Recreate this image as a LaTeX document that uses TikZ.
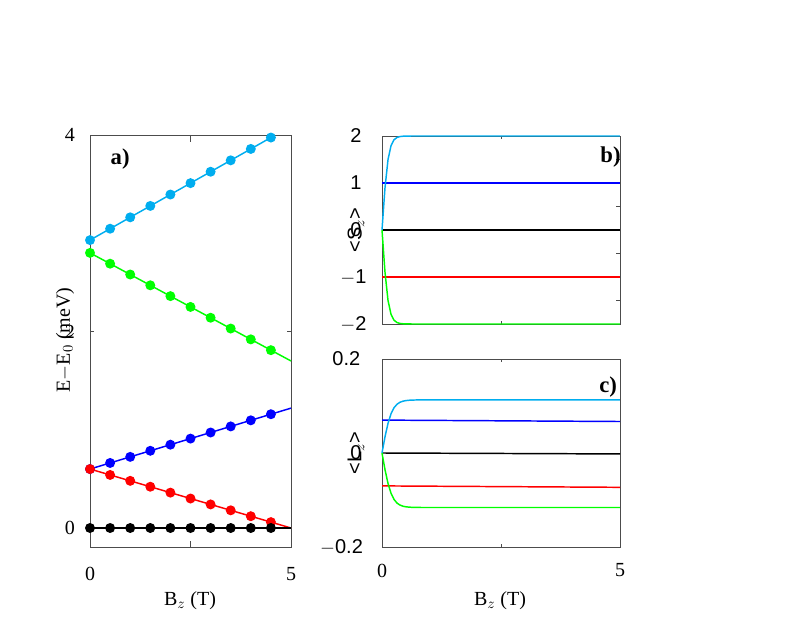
\documentclass[tikz,border=0pt]{standalone}
\usepackage{fontspec}
\setmainfont{Liberation Serif}
\setsansfont{Liberation Sans}
\begin{document}
\begin{tikzpicture}[x=0.75pt,y=-0.75pt,
  frame/.style={draw=black!70,line width=0.5pt},
  crv/.style={line width=1.1pt},
  dot/.style={circle,fill,inner sep=0pt,minimum size=7.5pt},
  lbl/.style={font=\bfseries\fontsize{17}{17}\selectfont},
  tks/.style={font=\fontsize{15}{15}\selectfont},
  tkss/.style={font=\sffamily\fontsize{15}{15}\selectfont}]
\useasboundingbox (0,0) rectangle (806,623);
% ---- panel a
\begin{scope}[shift={(90,528)},x=30.15pt,y=73.69pt]
 \draw[frame] (0,-0.2) rectangle (5,4);
 \foreach \t in {2.5}{\draw[frame] (\t,-0.2)--(\t,-0.13) (\t,4)--(\t,3.93);}
 \foreach \v in {0,2,4}{\draw[frame] (0,\v)--(0.1,\v) (5,\v)--(4.9,\v);}
 \draw[crv,cyan] (0,2.93)--(4.6,3.997);
 \draw[crv,green] (0,2.8)--(5,1.7);
 \draw[crv,blue] (0,0.6)--(5,1.22);
 \draw[crv,red] (0,0.6)--(5,0);
 \draw[crv,black] (0,0)--(5,0);
 \foreach \b in {0,0.5,...,4.5}{
  \node[dot,cyan] at (\b,{2.93+0.232*\b}) {};
  \node[dot,green] at (\b,{2.8-0.22*\b}) {};
  \node[dot,blue] at (\b,{0.6+0.124*\b}) {};
  \node[dot,red] at (\b,{0.6-0.12*\b}) {};
  \node[dot,black] at (\b,0) {};}
 \node[tks] (a4) at (-0.5,4) {4};
 \node[tks] (a2) at (-0.5,2) {2};
 \node[tks] (a0) at (-0.5,0) {0};
 \node[tks] (ax0) at (0,-0.47) {0};
 \node[tks] (ax5) at (5,-0.47) {5};
 \node[lbl] (la) at (0.75,3.75) {a)};
\end{scope}
\node[tks,rotate=90] (ya) at (65,340) {E$-$E$_0$ (meV)};
\node[tks] (xa) at (190,601) {B$_z$ (T)};
% ---- panel b
\begin{scope}[shift={(382,230)},x=35.7pt,y=35.25pt]
 \draw[frame] (0,-2) rectangle (5,2);
 \draw[frame] (2.5,-2)--(2.5,-1.93) (2.5,2)--(2.5,1.93);
 \foreach \v in {-1.5,-1,...,1.5}{\draw[frame] (5,\v)--(4.92,\v);}
 \draw[crv,blue] (0,1)--(5,1);
 \draw[crv,black] (0,0)--(5,0);
 \draw[crv,red] (0,-1)--(5,-1);
 \draw[crv,cyan] plot[domain=0:5,samples=80] (\x,{2*tanh(min(\x/0.13,6))});
 \draw[crv,green] plot[domain=0:5,samples=80] (\x,{-2*tanh(min(\x/0.13,6))});
 \node[tkss] (b2) at (-0.55,2) {2};
 \node[tkss] (b1) at (-0.55,1) {1};
 \node[tkss] (b0) at (-0.55,0) {0};
 \node[tkss] (bm1) at (-0.6,-1) {$-$1};
 \node[tkss] (bm2) at (-0.6,-2) {$-$2};
 \node[lbl] (lb) at (4.8,1.55) {b)};
\end{scope}
\node[tkss,rotate=90] (yb) at (356,230) {<S$_z$>};
% ---- panel c
\begin{scope}[shift={(382,453)},x=35.7pt,y=352.5pt]
 \draw[frame] (0,-0.2) rectangle (5,0.2);
 \draw[frame] (2.5,-0.2)--(2.5,-0.193) (2.5,0.2)--(2.5,0.193);
 \draw[crv,blue] (0,0.07)--(5,0.067);
 \draw[crv,black] (0,0)--(5,-0.002);
 \draw[crv,red] (0,-0.07)--(5,-0.073);
 \draw[crv,cyan] plot[domain=0:5,samples=80] (\x,{0.113*tanh(min(\x/0.2,6))});
 \draw[crv,green] plot[domain=0:5,samples=80] (\x,{-0.116*tanh(min(\x/0.2,6))});
 \node[tkss] (c2) at (-0.75,0.2) {0.2};
 \node[tkss] (c0) at (-0.55,0) {0};
 \node[tkss] (cm2) at (-0.85,-0.2) {$-$0.2};
 \node[tks] (cx0) at (0,-0.25) {0};
 \node[tks] (cx5) at (5,-0.25) {5};
 \node[lbl] (lc) at (4.75,0.14) {c)};
\end{scope}
\node[tkss,rotate=90] (yc) at (356,453) {<L$_z$>};
\node[tks] (xc) at (500,601) {B$_z$ (T)};
\end{tikzpicture}
\end{document}
